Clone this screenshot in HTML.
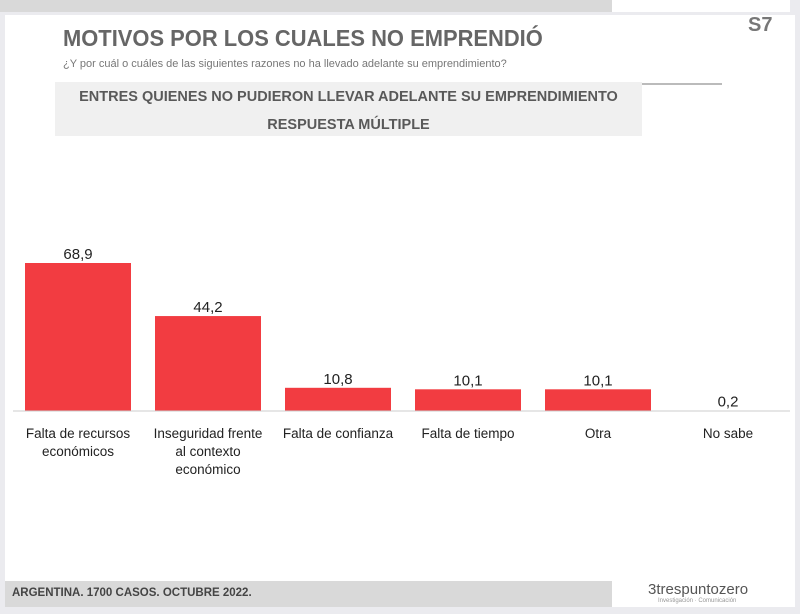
<!DOCTYPE html>
<html><head><meta charset="utf-8"><style>
body{margin:0;width:800px;height:614px;background:#ebebef;font-family:"Liberation Sans",sans-serif;position:relative;overflow:hidden}
.abs{position:absolute}
</style></head><body>
<div class="abs" style="left:0;top:0;width:612px;height:12px;background:#d9d9d9"></div>
<div class="abs" style="left:612px;top:0;width:178px;height:12px;background:#fff"></div>
<div class="abs" style="left:5px;top:15px;width:790px;height:592px;background:#fff"></div>
<div class="abs" style="left:63px;top:25px;font-size:23px;font-weight:bold;color:#666;transform:scaleX(0.953);transform-origin:left">MOTIVOS POR LOS CUALES NO EMPRENDIÓ</div>
<div class="abs" style="left:63px;top:58px;font-size:11px;color:#777">¿Y por cuál o cuáles de las siguientes razones no ha llevado adelante su emprendimiento?</div>
<div class="abs" style="left:630px;top:83px;width:92px;height:2px;background:#bbb"></div>
<div class="abs" style="left:748px;top:14px;width:45px;height:36px;color:#777;font-size:20px;font-weight:bold">S7</div>
<div class="abs" style="left:55px;top:82px;width:587px;height:54px;background:#f0f0f0;color:#595959;font-size:14.5px;font-weight:bold;text-align:center;line-height:28px"><div style="margin-top:1px">ENTRES QUIENES NO PUDIERON LLEVAR ADELANTE SU EMPRENDIMIENTO</div><div>RESPUESTA MÚLTIPLE</div></div>
<svg class="abs" style="left:0;top:0" width="800" height="614" id="chart"></svg>
<div class="abs" style="left:5px;top:581px;width:607px;height:26px;background:#d9d9d9"></div>
<div class="abs" style="left:12px;top:587px;font-size:11.5px;font-weight:bold;color:#444">ARGENTINA. 1700 CASOS. OCTUBRE 2022.</div>
<div class="abs" style="left:648px;top:581px;font-size:15px;color:#555">3trespuntozero<div style="font-size:6px;color:#999;margin-left:10px">Investigación · Comunicación</div></div>
<script>
const categories=[["Falta de recursos","económicos"],["Inseguridad frente","al contexto","económico"],["Falta de confianza"],["Falta de tiempo"],["Otra"],["No sabe"]];
const values=[68.9,44.2,10.8,10.1,10.1,0.2];
const valueLabels=["68,9","44,2","10,8","10,1","10,1","0,2"];
const svg=document.getElementById('chart');
const NS='http://www.w3.org/2000/svg';
const base=411,scale=2.148,x0=13,step=130,bw=106;
const y=v=>base-v*scale;
const xc=i=>x0+step*i+step/2;
function mk(t,a){const e=document.createElementNS(NS,t);for(const k in a)e.setAttribute(k,a[k]);svg.appendChild(e);return e;}
values.forEach((v,i)=>{
 const r=mk('rect',{x:xc(i)-bw/2,y:y(v),width:bw,height:base-y(v),fill:'#f23c41'});
 
 
 const t=mk('text',{x:xc(i),y:y(v)-4,'text-anchor':'middle','font-size':15,fill:'#222','font-family':'Liberation Sans'});
 t.textContent=valueLabels[i];
 
 
 categories[i].forEach((ln,j)=>{
  const c=mk('text',{x:xc(i),y:438+j*18,'text-anchor':'middle','font-size':13.5,fill:'#222','font-family':'Liberation Sans'});
  c.textContent=ln;
  
  
 });
});
const ax=mk('line',{x1:13,x2:790,y1:base,y2:base,stroke:'#ccc','stroke-width':1});


</script>
</body></html>
